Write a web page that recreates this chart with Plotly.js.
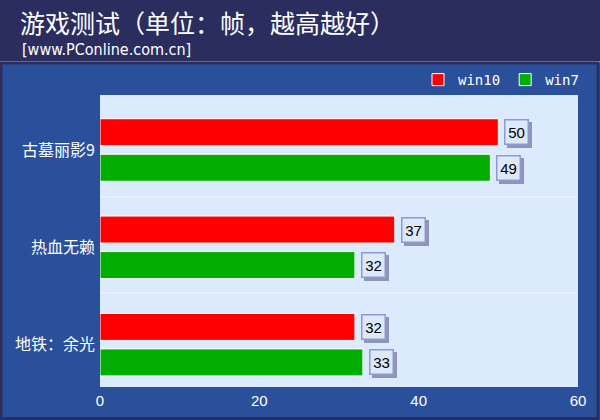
<!DOCTYPE html>
<html>
<head>
<meta charset="utf-8">
<script src="https://cdn.plot.ly/plotly-3.0.1.min.js"></script>
<style>
  html, body { margin: 0; padding: 0; background: #2c2d5f; }
  #chart { width: 600px; height: 420px; }
</style>
</head>
<body>
<div id="chart"></div>
<script>
/* 数据 */
var games = ["古墓丽影9", "热血无赖", "地铁：余光"];
var win10 = [50, 37, 32];
var win7 = [49, 32, 33];
var xTicks = [0, 20, 40, 60];

var margin = { l: 100, r: 22, t: 95, b: 33 };
var plotW = 600 - margin.l - margin.r;
var plotH = 420 - margin.t - margin.b;
var bargap = 0.27;
var yOff = 0.065;   // 类别略微下移

// 每根柱子相对类别中心的偏移(像素)
var slot = (1 - bargap) * (plotH / games.length) / 2;
var shift = slot / 2;

var trace1 = {
    type: "bar",
    orientation: "h",
    name: "win10",
    x: win10,
    y: games,
    marker: { color: "#ff0000", line: { color: "#ffffff", width: 1 } },
    hoverinfo: "x"
};

var trace2 = {
    type: "bar",
    orientation: "h",
    name: "win7",
    x: win7,
    y: games,
    marker: { color: "#00ad00", line: { color: "#ffffff", width: 1 } },
    hoverinfo: "x"
};

// 数值标签(带阴影的小方框)
var annotations = [];
function addLabels(vals, yshift){
    vals.forEach(function(v, i){
        annotations.push({
            x: v, y: games[i], xref: "x", yref: "y",
            text: " ", showarrow: false,
            width: 18, height: 19,
            xanchor: "left", xshift: 9, yshift: yshift - 3,
            bgcolor: "#9095b5", borderpad: 2, borderwidth: 1.5,
            bordercolor: "#9095b5"
        });
        annotations.push({
            x: v, y: games[i], xref: "x", yref: "y",
            text: String(v), showarrow: false,
            width: 18, height: 19,
            xanchor: "left", xshift: 6, yshift: yshift,
            font: { family: "Liberation Sans, Arial", size: 15, color: "#000000" },
            bgcolor: "#dde8f9", borderpad: 2, borderwidth: 1.5,
            bordercolor: "#8e9ad6"
        });
    });
}
addLabels(win10, shift);
addLabels(win7, -shift);

function px(x){ return (x - margin.l) / plotW; }
function py(y){ return (plotH + margin.t - y) / plotH; }

annotations.push({
    xref: "paper", yref: "paper",
    x: px(20), y: py(49),
    xanchor: "left", yanchor: "middle",
    text: "[www.PConline.com.cn]", showarrow: false,
    font: { family: "Liberation Sans Narrow, DejaVu Sans Condensed, sans-serif", size: 16, color: "#ffffff" }
});

var shapes = [
    // 顶部标题栏
    { type: "rect", xref: "paper", yref: "paper", layer: "above",
      x0: px(-5), x1: px(605), y0: py(62), y1: py(-5),
      fillcolor: "#2c2d5f", line: { width: 0 } },
    { type: "line", xref: "paper", yref: "paper", layer: "above",
      x0: px(0), x1: px(600), y0: py(62), y1: py(62),
      line: { color: "#c9cde6", width: 1.5 } },
    // 外框
    { type: "rect", xref: "paper", yref: "paper", layer: "above",
      x0: px(1), x1: px(598), y0: py(418.5), y1: py(63),
      line: { color: "#2c2d5f", width: 3 } },
    // 类别分隔线
    { type: "line", xref: "paper", yref: "paper", layer: "above",
      x0: 0, x1: 1, y0: py(293), y1: py(293),
      line: { color: "#f2f7ff", width: 1 } },
    { type: "line", xref: "paper", yref: "paper", layer: "above",
      x0: 0, x1: 1, y0: py(197), y1: py(197),
      line: { color: "#f2f7ff", width: 1 } }
];

var layout = {
    width: 600,
    height: 420,
    margin: margin,
    paper_bgcolor: "#2a509c",
    plot_bgcolor: "#dbeafc",
    barmode: "group",
    bargap: bargap,
    bargroupgap: 0.24,
    title: {
        text: "游戏测试（单位：帧，越高越好）",
        xref: "container", yref: "container",
        x: 20 / 600, y: 1 - 24 / 420,
        xanchor: "left", yanchor: "middle",
        font: { family: "Noto Sans CJK SC, sans-serif", size: 25, color: "#ffffff" }
    },
    showlegend: true,
    legend: {
        orientation: "h",
        x: px(584), xanchor: "right",
        y: py(80), yanchor: "middle",
        bgcolor: "rgba(0,0,0,0)",
        font: { family: "DejaVu Sans Mono, monospace", size: 14, color: "#ffffff" },
        itemclick: false
    },
    xaxis: {
        range: [0, 60],
        tickvals: xTicks,
        showgrid: false,
        zeroline: false,
        ticks: "",
        ticklabelstandoff: 3,
        tickfont: { family: "Liberation Sans, Arial", size: 15, color: "#ffffff" },
        fixedrange: true
    },
    yaxis: {
        range: [games.length - 0.5 - yOff, -0.5 - yOff],
        showgrid: false,
        ticks: "",
        ticklabelstandoff: 4,
        tickfont: { family: "Noto Sans CJK SC, sans-serif", size: 16, color: "#ffffff" },
        fixedrange: true
    },
    shapes: shapes,
    annotations: annotations
};

Plotly.newPlot("chart", [trace1, trace2], layout, { displayModeBar: false });
</script>
</body>
</html>
